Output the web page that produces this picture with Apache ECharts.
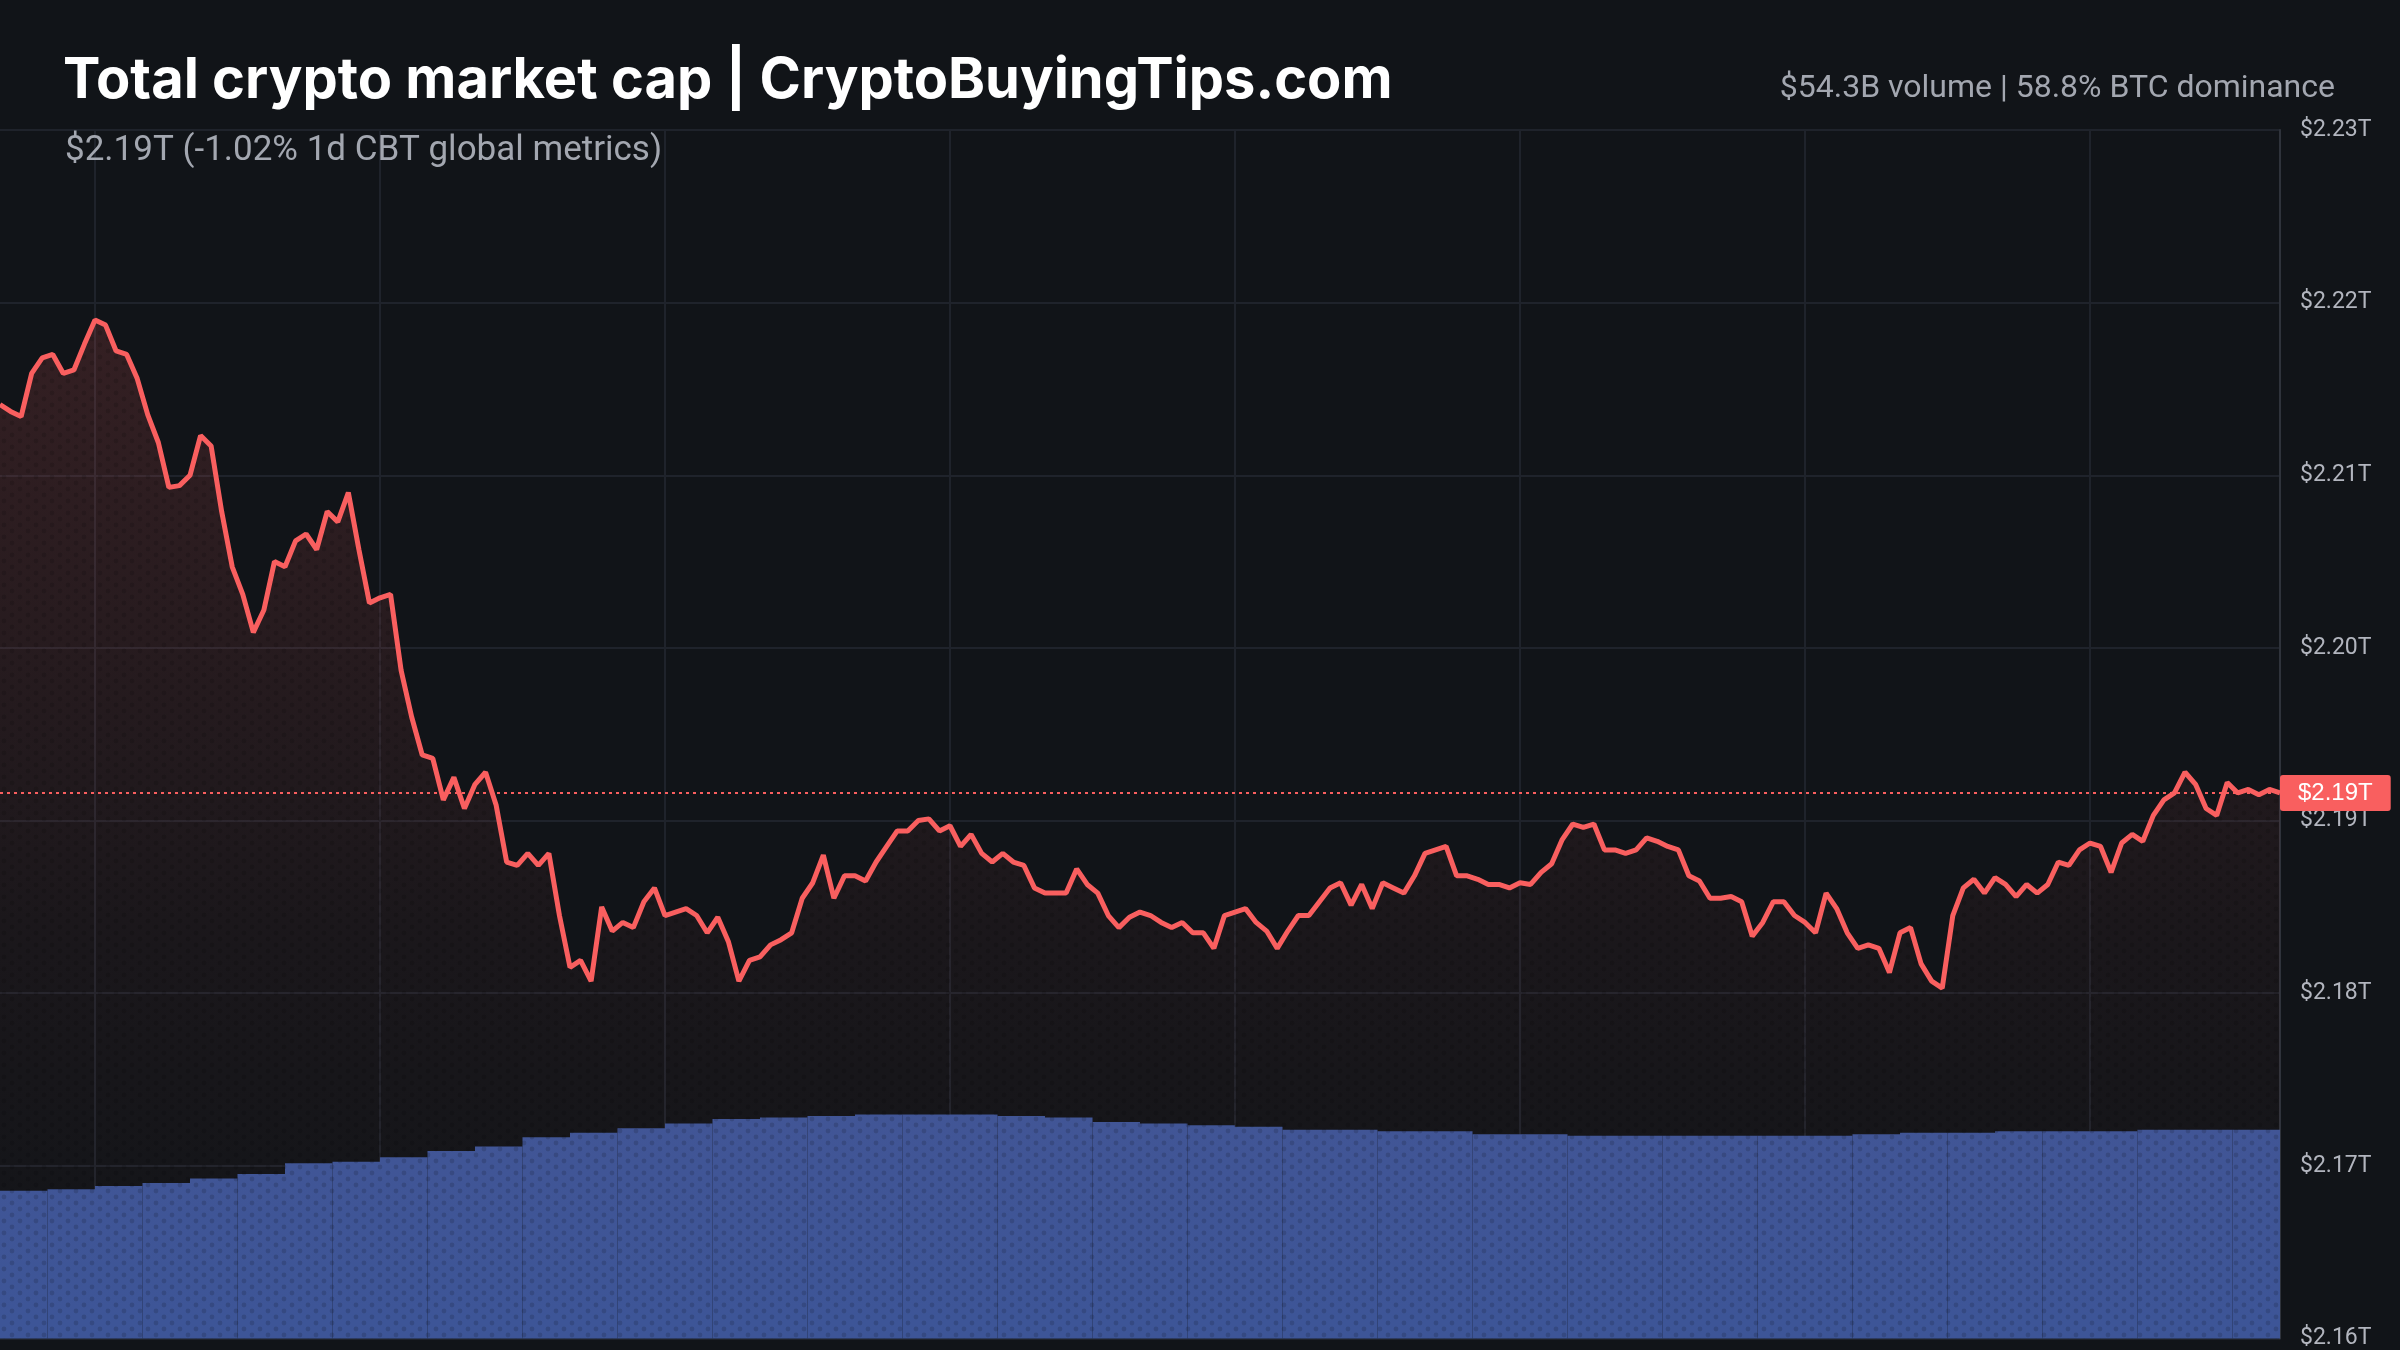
<!DOCTYPE html>
<html><head><meta charset="utf-8">
<script src="https://cdn.jsdelivr.net/npm/echarts@6/dist/echarts.min.js"></script>
<style>html,body{margin:0;padding:0;background:#111418;}#c{width:2400px;height:1350px;}</style>
</head><body><div id="c"></div>
<script>
// market cap in billions USD
const capValues = [2214.1,2213.7,2213.4,2215.9,2216.8,2217.0,2215.9,2216.1,2217.6,2219.0,2218.7,2217.2,2217.0,2215.6,2213.5,2211.9,2209.3,2209.4,2210.0,2212.3,2211.7,2207.9,2204.7,2203.1,2200.9,2202.2,2205.0,2204.7,2206.2,2206.6,2205.7,2207.9,2207.3,2209.0,2205.7,2202.6,2202.9,2203.1,2198.7,2196.0,2193.8,2193.6,2191.2,2192.5,2190.7,2192.1,2192.8,2190.9,2187.6,2187.4,2188.1,2187.4,2188.1,2184.5,2181.5,2181.9,2180.7,2185.0,2183.6,2184.1,2183.8,2185.3,2186.1,2184.5,2184.7,2184.9,2184.5,2183.5,2184.4,2183.0,2180.7,2181.9,2182.1,2182.8,2183.1,2183.5,2185.5,2186.4,2188.0,2185.5,2186.8,2186.8,2186.5,2187.6,2188.5,2189.4,2189.4,2190.0,2190.1,2189.4,2189.7,2188.5,2189.2,2188.1,2187.6,2188.1,2187.6,2187.4,2186.1,2185.8,2185.8,2185.8,2187.2,2186.3,2185.8,2184.5,2183.8,2184.4,2184.7,2184.5,2184.1,2183.8,2184.1,2183.5,2183.5,2182.6,2184.5,2184.7,2184.9,2184.1,2183.6,2182.6,2183.6,2184.5,2184.5,2185.3,2186.1,2186.4,2185.1,2186.3,2184.9,2186.4,2186.1,2185.8,2186.8,2188.1,2188.3,2188.5,2186.8,2186.8,2186.6,2186.3,2186.3,2186.1,2186.4,2186.3,2187.0,2187.5,2188.9,2189.8,2189.6,2189.8,2188.3,2188.3,2188.1,2188.3,2189.0,2188.8,2188.5,2188.3,2186.8,2186.5,2185.5,2185.5,2185.6,2185.3,2183.3,2184.1,2185.3,2185.3,2184.5,2184.1,2183.5,2185.8,2184.9,2183.5,2182.6,2182.8,2182.6,2181.2,2183.5,2183.8,2181.7,2180.7,2180.3,2184.5,2186.1,2186.6,2185.8,2186.7,2186.3,2185.6,2186.3,2185.8,2186.3,2187.6,2187.4,2188.3,2188.7,2188.5,2187.0,2188.7,2189.2,2188.8,2190.3,2191.2,2191.6,2192.8,2192.1,2190.7,2190.3,2192.2,2191.6,2191.8,2191.5,2191.8,2191.6];
const volumeValues = [97,98,100,102,105,108,115,116,119,123,126,132,135,138,141,144,145,146,147,147,147,146,145,142,141,140,139,137,137,136,136,134,134,133,133,133,133,133,133,134,135,135,136,136,136,137,137,137];
const yTicks = [2160,2170,2180,2190,2200,2210,2220,2230];
const lastPrice = 2191.6;

const capCats = capValues.map((_, i) => i);
const volCats = volumeValues.map((_, i) => i);
const fmt = v => '$' + (v / 1000).toFixed(2) + 'T';

const chart = echarts.init(document.getElementById('c'));
chart.setOption({
  backgroundColor: '#111418',
  animation: false,
  aria: {enabled: true, decal: {show: true}, label: {enabled: false}},
  title: [
    {text: 'Total crypto market cap | CryptoBuyingTips.com', left: 58, top: 48,
     textStyle: {color: '#ffffff', fontSize: 56, fontWeight: 'bold', fontFamily: 'Inter, Roboto, sans-serif'}},
    {text: '$2.19T (-1.02% 1d CBT global metrics)', left: 60, top: 129,
     textStyle: {color: '#a3a7b0', fontSize: 35, fontWeight: 'normal', fontFamily: 'Roboto, sans-serif'}},
    {text: '$54.3B volume | 58.8% BTC dominance', right: 60, top: 68,
     textStyle: {color: '#a3a7b0', fontSize: 32, fontWeight: 'normal', fontFamily: 'Roboto, sans-serif'}}
  ],
  grid: {left: 0, right: 120, top: 130, bottom: 6},
  xAxis: [
    {type: 'category', data: capCats, boundaryGap: false, show: false},
    {type: 'category', data: volCats, boundaryGap: true,
     axisLine: {show: false}, axisTick: {show: false}, axisLabel: {show: false},
     splitLine: {show: true, interval: (i) => i % 6 === 2, lineStyle: {color: '#1f232b', width: 2}}}
  ],
  yAxis: [
    {type: 'value', position: 'right', min: 2160, max: 2230, interval: 10,
     axisLine: {show: true, lineStyle: {color: '#2f333b', width: 2}}, axisTick: {show: false},
     axisLabel: {color: '#b2b5be', fontSize: 23, margin: 20, formatter: v => yTicks.includes(v) ? fmt(v) : '',
                 fontFamily: 'Roboto, sans-serif'},
     splitLine: {lineStyle: {color: '#1f232b', width: 2}}},
    {type: 'value', min: 0, max: 793, show: false, splitLine: {show: false}}
  ],
  series: [
    {type: 'bar', xAxisIndex: 1, yAxisIndex: 1, data: volumeValues, barCategoryGap: '0%', z: 1,
     itemStyle: {color: '#3d5597',
       decal: {symbol: 'rect', dashArrayX: [[4, 4]], dashArrayY: [[10, 0]], color: 'rgba(17,20,24,0.8)', rotation: 0, symbolSize: 1}}},
    {type: 'line', xAxisIndex: 0, yAxisIndex: 0, data: capValues, symbol: 'none', z: 3,
     lineStyle: {color: '#f95f5f', width: 5},
     areaStyle: {origin: 'start', color: new echarts.graphic.LinearGradient(0, 0, 0, 1, [
       {offset: 0, color: 'rgba(249,95,95,0.22)'}, {offset: 0.6, color: 'rgba(249,95,95,0.06)'}, {offset: 1, color: 'rgba(249,95,95,0.0)'}])},
     markLine: {symbol: 'none', silent: true,
       lineStyle: {color: '#f95f5f', type: [3, 4], width: 2},
       label: {position: 'end', formatter: fmt(lastPrice), color: '#ffffff', backgroundColor: '#f95f5f',
               fontSize: 24, padding: [7, 18, 5, 18], borderRadius: 3, distance: 0},
       data: [{yAxis: lastPrice}]}}
  ]
});
</script></body></html>
